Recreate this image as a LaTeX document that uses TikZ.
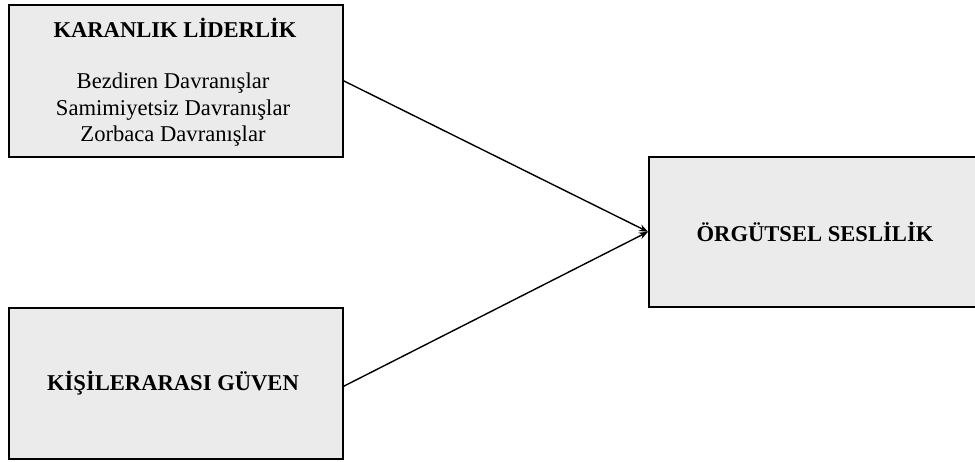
\documentclass[tikz,border=0pt]{standalone}
\usepackage{fontspec}
\setmainfont{Liberation Serif}
\usetikzlibrary{arrows.meta}
\definecolor{boxfill}{HTML}{EBEBEB}
\begin{document}
\begin{tikzpicture}[x=1pt,y=-1pt,
  box/.style={draw=black,line width=1.6pt,fill=boxfill,inner sep=0pt,anchor=north west},
  conn/.style={line width=1.4pt,-{Stealth[length=9pt,width=7pt]}},
  every node/.append style={font=\fontsize{22.6}{26.5}\selectfont}]
\useasboundingbox (0,0) rectangle (975,462);
\begin{scope}
\clip (0,0) rectangle (975,462);
\node[box,minimum width=334pt,minimum height=152pt] (kl) at (8,4) {};
\node[box,minimum width=334pt,minimum height=151pt] (kg) at (8,307) {};
\node[box,minimum width=334pt,minimum height=150pt] (os) at (648,156) {};
\end{scope}
\node[font=\fontsize{22.6}{26.5}\selectfont\bfseries] (klt) at (175,28) {KARANLIK LİDERLİK};
\node[align=center] (kll) at (173,110) {Bezdiren Davranışlar\\Samimiyetsiz Davranışlar\\Zorbaca Davranışlar};
\node[font=\fontsize{22.6}{26.5}\selectfont\bfseries] (kgt) at (173,383) {KİŞİLERARASI GÜVEN};
\node[font=\fontsize{22.6}{26.5}\selectfont\bfseries] (ost) at (815,232) {ÖRGÜTSEL SESLİLİK};
\draw[conn] (kl.east) -- (os.west);
\draw[conn] ([yshift=-3pt]kg.east) -- (os.west);
\end{tikzpicture}
\end{document}
